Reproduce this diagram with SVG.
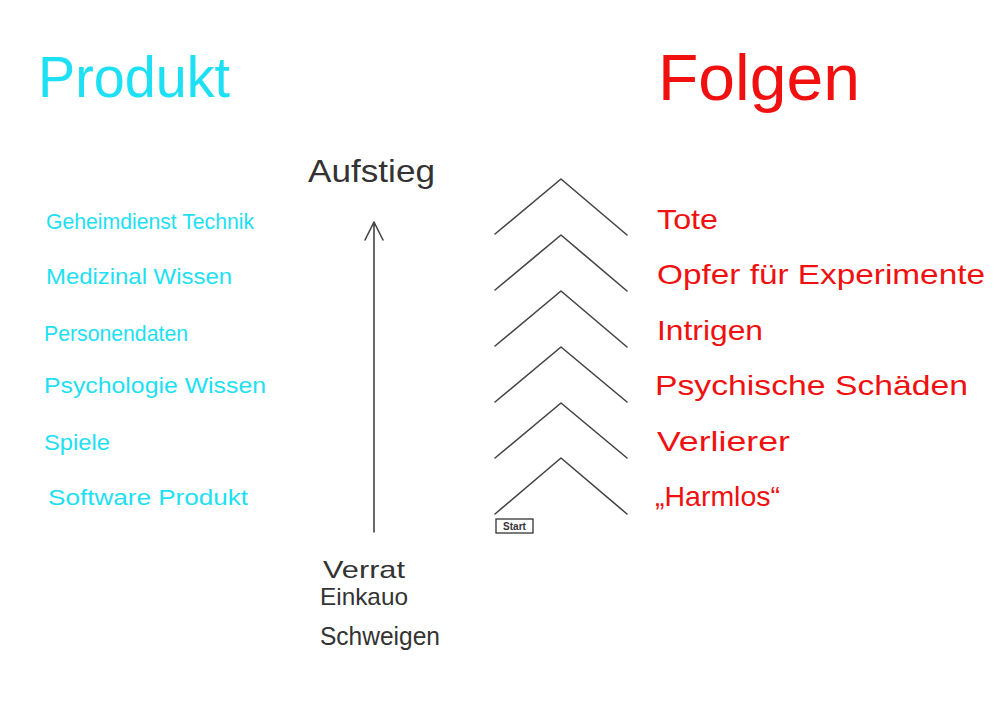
<svg xmlns="http://www.w3.org/2000/svg" width="1000" height="707" viewBox="0 0 1000 707">
<style>
.c{fill:#1ee0f4;font-family:"Liberation Sans",sans-serif;font-size:22px}
.r{fill:#f01010;font-family:"Liberation Sans",sans-serif;font-size:28px}
.g{fill:#333;font-family:"Liberation Sans",sans-serif;font-size:24px}
.ln{fill:none;stroke:#444;stroke-width:1.6;stroke-linecap:round;stroke-linejoin:round}
</style>
<rect width="1000" height="707" fill="#fff"/>
<g id="titles">
<text x="38" y="97" class="c" style="font-size:58px" textLength="192" lengthAdjust="spacingAndGlyphs">Produkt</text>
<text x="658" y="100" class="r" style="font-size:64px" textLength="202" lengthAdjust="spacingAndGlyphs">Folgen</text>
</g>
<g id="products">
<text x="46" y="229" class="c" textLength="208" lengthAdjust="spacingAndGlyphs">Geheimdienst Technik</text>
<text x="46" y="284" class="c" textLength="186" lengthAdjust="spacingAndGlyphs">Medizinal Wissen</text>
<text x="44" y="341" class="c" textLength="144" lengthAdjust="spacingAndGlyphs">Personendaten</text>
<text x="44" y="393" class="c" textLength="222" lengthAdjust="spacingAndGlyphs">Psychologie Wissen</text>
<text x="44" y="450" class="c" textLength="66" lengthAdjust="spacingAndGlyphs">Spiele</text>
<text x="48" y="505" class="c" textLength="200" lengthAdjust="spacingAndGlyphs">Software Produkt</text>
</g>
<g id="consequences">
<text x="657" y="229" class="r" textLength="61" lengthAdjust="spacingAndGlyphs">Tote</text>
<text x="657" y="284" class="r" textLength="328" lengthAdjust="spacingAndGlyphs">Opfer für Experimente</text>
<text x="657" y="340" class="r" textLength="106" lengthAdjust="spacingAndGlyphs">Intrigen</text>
<text x="655" y="395" class="r" textLength="313" lengthAdjust="spacingAndGlyphs">Psychische Schäden</text>
<text x="657" y="451" class="r" textLength="133" lengthAdjust="spacingAndGlyphs">Verlierer</text>
<text x="655" y="506" class="r" textLength="125" lengthAdjust="spacingAndGlyphs">„Harmlos“</text>
</g>
<g id="labels">
<text x="308" y="182" class="g" style="font-size:32px" textLength="127" lengthAdjust="spacingAndGlyphs">Aufstieg</text>
<text x="323" y="578" class="g" textLength="82" lengthAdjust="spacingAndGlyphs">Verrat</text>
<text x="320" y="605" class="g" textLength="88" lengthAdjust="spacingAndGlyphs">Einkauo</text>
<text x="320" y="645" class="g" style="font-size:26px" textLength="120" lengthAdjust="spacingAndGlyphs">Schweigen</text>
</g>
<g id="start">
<rect x="496" y="519" width="37" height="14" fill="none" stroke="#333" stroke-width="1.3"/>
<text x="514.5" y="530" text-anchor="middle" font-family="Liberation Sans, sans-serif" font-size="10" font-weight="bold" fill="#333">Start</text>
</g>
<g id="connectors">
<path class="ln" d="M374 532 L374 222 M365 240 L374 222 L383 240"/>
<path class="ln" d="M495 234 L561 179 L627 235"/>
<path class="ln" d="M495 290 L561 235 L627 291"/>
<path class="ln" d="M495 346 L561 291 L627 347"/>
<path class="ln" d="M495 402 L561 347 L627 402"/>
<path class="ln" d="M495 458 L561 403 L627 458"/>
<path class="ln" d="M495 514 L561 458 L627 514"/>
</g>
</svg>
